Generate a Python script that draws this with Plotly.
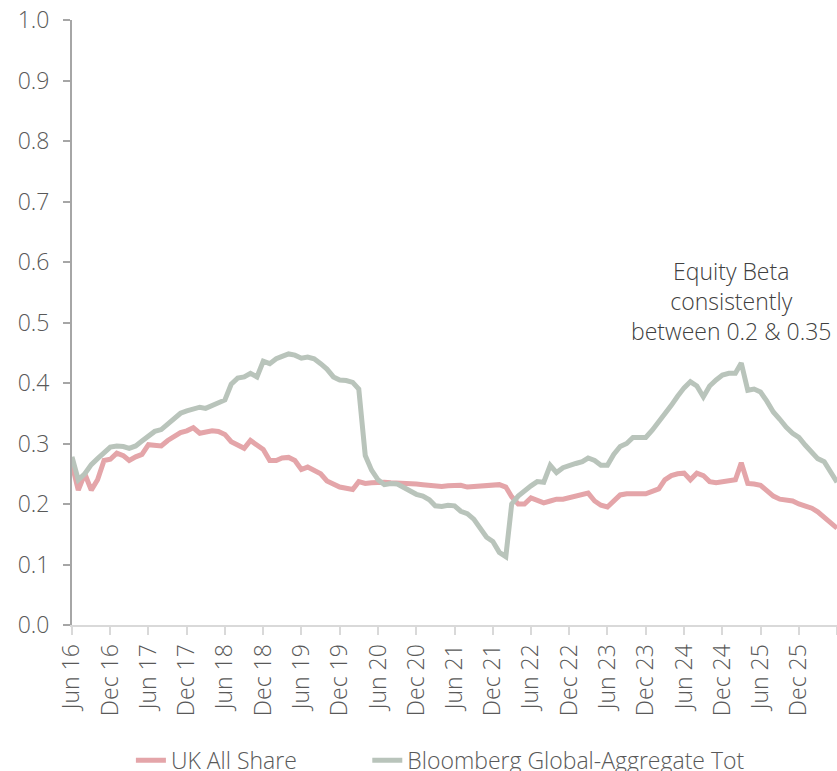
import pandas as pd
import plotly.graph_objects as go

# monthly observations, Jun 2016 onwards
months = pd.date_range("2016-06-01", periods=121, freq="MS")

uk_all_share = [
    0.265, 0.223, 0.250, 0.223, 0.240, 0.272, 0.274, 0.284, 0.280, 0.272,
    0.278, 0.282, 0.298, 0.297, 0.296, 0.305, 0.311, 0.318, 0.321, 0.326,
    0.317, 0.319, 0.321, 0.320, 0.315, 0.303, 0.298, 0.292, 0.305, 0.296,
    0.290, 0.272, 0.272, 0.276, 0.277, 0.272, 0.257, 0.261, 0.256, 0.250,
    0.238, 0.233, 0.228, 0.226, 0.224, 0.237, 0.234, 0.235, 0.236, 0.236,
    0.235, 0.235, 0.234, 0.233, 0.233, 0.232, 0.231, 0.229, 0.229, 0.230,
    0.231, 0.231, 0.228, 0.229, 0.230, 0.231, 0.232, 0.232, 0.228, 0.212,
    0.200, 0.200, 0.210, 0.207, 0.202, 0.205, 0.208, 0.208, 0.210, 0.212,
    0.215, 0.218, 0.205, 0.198, 0.195, 0.205, 0.215, 0.217, 0.218, 0.217,
    0.217, 0.220, 0.225, 0.240, 0.247, 0.250, 0.251, 0.240, 0.251, 0.247,
    0.237, 0.235, 0.237, 0.240, 0.240, 0.268, 0.234, 0.233, 0.231, 0.222,
    0.213, 0.208, 0.206, 0.205, 0.200, 0.197, 0.193, 0.187, 0.178, 0.167,
    0.160,
]

bbg_global_agg = [
    0.278, 0.240, 0.250, 0.265, 0.275, 0.285, 0.294, 0.296, 0.295, 0.292,
    0.296, 0.304, 0.312, 0.320, 0.323, 0.332, 0.342, 0.350, 0.354, 0.356,
    0.360, 0.358, 0.363, 0.369, 0.372, 0.398, 0.408, 0.410, 0.416, 0.410,
    0.436, 0.432, 0.440, 0.444, 0.448, 0.446, 0.441, 0.443, 0.440, 0.432,
    0.423, 0.410, 0.405, 0.404, 0.401, 0.390, 0.280, 0.256, 0.240, 0.232,
    0.234, 0.233, 0.227, 0.222, 0.216, 0.213, 0.207, 0.197, 0.196, 0.198,
    0.197, 0.188, 0.184, 0.175, 0.160, 0.145, 0.138, 0.120, 0.113, 0.200,
    0.213, 0.222, 0.230, 0.237, 0.236, 0.264, 0.252, 0.260, 0.264, 0.267,
    0.270, 0.276, 0.272, 0.264, 0.264, 0.282, 0.295, 0.300, 0.310, 0.309,
    0.310, 0.322, 0.335, 0.347, 0.363, 0.378, 0.392, 0.402, 0.395, 0.377,
    0.395, 0.405, 0.413, 0.416, 0.416, 0.433, 0.388, 0.390, 0.385, 0.370,
    0.352, 0.340, 0.327, 0.317, 0.310, 0.297, 0.285, 0.275, 0.270, 0.255,
    0.236,
]

series_names = ["UK All Share", "Bloomberg Global-Aggregate Tot"]
series_colors = ["#E4A5A9", "#B9C4BB"]
note_text = "Equity Beta<br>consistently<br>between 0.2 & 0.35"

font_family = "Open Sans, Noto Sans, sans-serif"
yaxis_grey = "#A6A6A6"
xaxis_grey = "#D9D9D9"
text_grey = "#595959"

fig = go.Figure()
# each series gets its own legend box so the two entries can be spaced like the original
for name, values, color, legend_id in zip(
        series_names, [uk_all_share, bbg_global_agg], series_colors, ["legend", "legend2"]):
    fig.add_trace(go.Scatter(
        x=months, y=values, name=name, mode="lines",
        line=dict(color=color, width=5), legend=legend_id,
    ))

fig.add_annotation(
    x="2025-01-13", y=0.535, text=note_text, showarrow=False,
    xanchor="center", yanchor="middle", align="center",
    font=dict(family=font_family, size=23, color="#404040", weight=300),
)

legend_style = dict(
    orientation="h", xanchor="left",
    yref="container", y=0.014, yanchor="middle",
    font=dict(size=23, color=text_grey),
)

fig.update_layout(
    width=837, height=771,
    margin=dict(l=72, r=0, t=20, b=146),
    paper_bgcolor="white", plot_bgcolor="white",
    font=dict(family=font_family, size=23, color=text_grey, weight=300),
    showlegend=True,
    legend=dict(x=0.077, **legend_style),
    legend2=dict(x=0.386, **legend_style),
    xaxis=dict(
        type="date", range=["2016-06-01", "2026-06-01"],
        tick0="2016-06-01", dtick="M6", tickformat="%b %y",
        tickangle=-90, showgrid=False, zeroline=False,
        showline=True, linecolor=xaxis_grey, linewidth=2,
        ticks="outside", ticklen=8, tickcolor=xaxis_grey, tickwidth=2,
        tickfont=dict(size=23, color=text_grey),
    ),
    yaxis=dict(
        range=[0, 1.0], dtick=0.1, tickformat=".1f",
        showgrid=False, zeroline=False,
        showline=True, linecolor=yaxis_grey, linewidth=2,
        ticks="outside", ticklen=7, tickcolor=yaxis_grey, tickwidth=2,
        tickfont=dict(size=23, color=text_grey),
        ticklabelstandoff=9,
    ),
)

# drop the default page margin so the figure sits flush with the window
fig.write_html(
    "out.html",
    config={"displayModeBar": False},
    post_script="document.body.style.margin='0';document.body.style.overflow='hidden';",
)
